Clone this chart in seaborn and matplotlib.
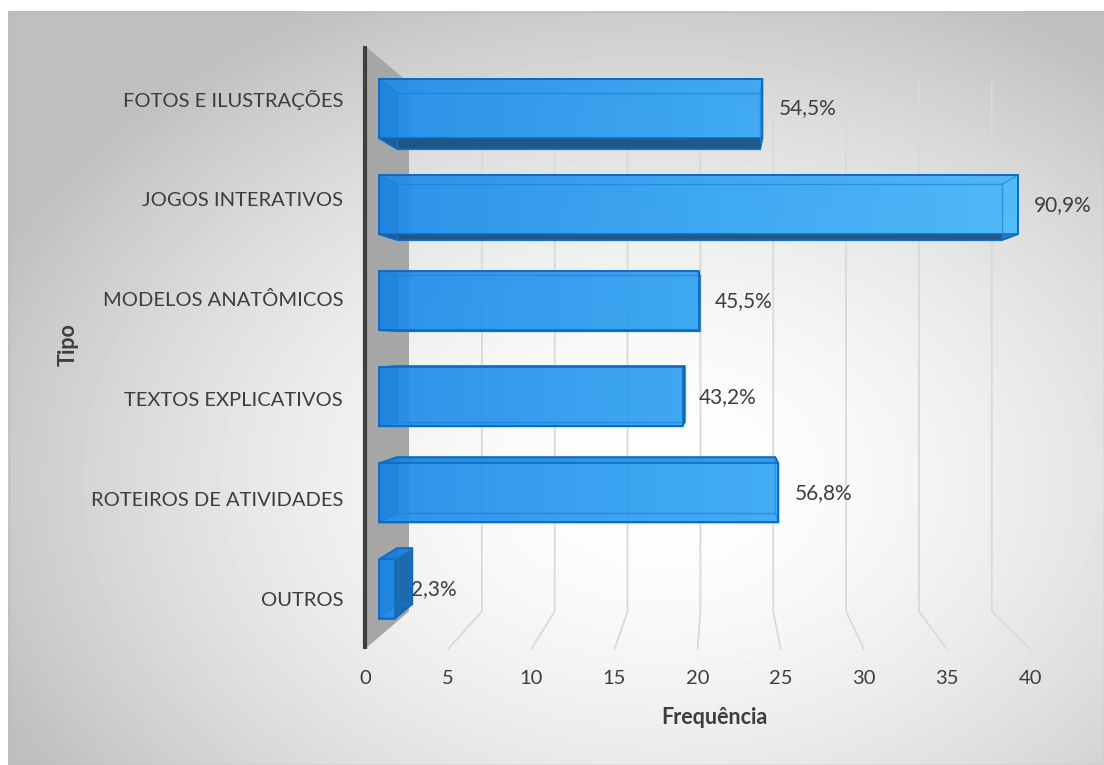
import numpy as np
import pandas as pd
import matplotlib
matplotlib.use("Agg")
import matplotlib.pyplot as plt
import seaborn as sns
from matplotlib.patches import Polygon, Rectangle
from matplotlib.colors import LinearSegmentedColormap

# ---- data -------------------------------------------------------------
categories = [
    "FOTOS E ILUSTRAÇÕES",
    "JOGOS INTERATIVOS",
    "MODELOS ANATÔMICOS",
    "TEXTOS EXPLICATIVOS",
    "ROTEIROS DE ATIVIDADES",
    "OUTROS",
]
frequencies = [24, 40, 20, 19, 25, 1]
percent_labels = ["54,5%", "90,9%", "45,5%", "43,2%", "56,8%", "2,3%"]
x_ticks = [0, 5, 10, 15, 20, 25, 30, 35, 40]
x_title = "Frequência"
y_title = "Tipo"

# ---- layout (pixels) ----------------------------------------------------
W, H = 1104, 765
AX_L, AX_T, AX_R, AX_B = 350, 30, 1104, 660
X0_PX, PX_PER_UNIT = 379.0, 15.975      # bar front plane: value -> pixel
Y0_PX, PX_PER_ROW = 108.5, 96.1         # bar front plane: row -> pixel
BAR_H = 0.614

# perspective: every depth plane is a scaling about the vanishing point
VP = (21.35, 2.46)
DEPTH_FRONT = 1.041       # floor front edge, tick labels, axis line
DEPTH_BAR_BACK = 0.947    # back face of the bars
DEPTH_WALL = 0.912        # back wall carrying the gridlines
ROW_TOP, ROW_BOTTOM = -0.53, 5.5


def project(v, i, r):
    return VP[0] + r * (v - VP[0]), VP[1] + r * (i - VP[1])


def hull(points):
    pts = sorted(set(points))
    def cross(o, a, b):
        return (a[0] - o[0]) * (b[1] - o[1]) - (a[1] - o[1]) * (b[0] - o[0])
    lower, upper = [], []
    for p in pts:
        while len(lower) >= 2 and cross(lower[-2], lower[-1], p) <= 0:
            lower.pop()
        lower.append(p)
    for p in reversed(pts):
        while len(upper) >= 2 and cross(upper[-2], upper[-1], p) <= 0:
            upper.pop()
        upper.append(p)
    return lower[:-1] + upper[:-1]


sns.set_theme(style="white")
plt.rcParams["font.family"] = ["Lato", "DejaVu Sans"]
TEXT = "#3d3d3d"

fig = plt.figure(figsize=(W / 100, H / 100), dpi=100)
fig.patch.set_facecolor("white")

# ---- chart area with radial shading ------------------------------------
bg = fig.add_axes([0, 0, 1, 1], zorder=0)
bg.set_xlim(0, W)
bg.set_ylim(H, 0)
bg.axis("off")
yy, xx = np.mgrid[11:H, 8:W].astype(float)
dist = np.hypot((xx - 660) / 640, (yy - 480) / 470)
shade = 1 - 0.2 * np.clip(dist, 0, 1.15) ** 1.7
bg.imshow(shade, cmap="gray", vmin=0, vmax=1, extent=(8, W, H, 11),
          aspect="auto", interpolation="bilinear")
bg.add_patch(Rectangle((8.5, 11.5), W - 9, H - 12, fill=False, ec="#bdbdbd", lw=1))

# ---- bars --------------------------------------------------------------
ax = fig.add_axes([AX_L / W, 1 - AX_B / H, (AX_R - AX_L) / W, (AX_B - AX_T) / H], zorder=1)
df = pd.DataFrame({y_title: categories, x_title: frequencies})
sns.barplot(data=df, x=x_title, y=y_title, orient="h", width=BAR_H,
            color="#2e9ff0", ax=ax, zorder=4)
bars = list(ax.containers[0])

xlim = ((AX_L - X0_PX) / PX_PER_UNIT, (AX_R - X0_PX) / PX_PER_UNIT)
ylim = ((AX_B - Y0_PX) / PX_PER_ROW, (AX_T - Y0_PX) / PX_PER_ROW)

bar_cmap = LinearSegmentedColormap.from_list("bar", ["#1f8ce8", "#31a3f3", "#46b7fa"])
gradient = np.linspace(0, 1, 256).reshape(1, -1)
edge = "#0b6bc2"

for bar in bars:
    x0, w = bar.get_x(), bar.get_width()
    y0, h = bar.get_y(), bar.get_height()
    x1, y1 = x0 + w, y0 + h
    front = [(x0, y0), (x1, y0), (x1, y1), (x0, y1)]
    back = [project(x, y, DEPTH_BAR_BACK) for x, y in front]
    outline = hull(front + back)
    sil = Polygon(outline, closed=True, fc="none", ec=edge, lw=1.3, zorder=4.6)
    ax.add_patch(sil)
    im = ax.imshow(gradient, cmap=bar_cmap, extent=(-0.5, 41.0, y1 + 0.2, y0 - 0.2),
                   aspect="auto", alpha=0.93, zorder=3, interpolation="bilinear")
    im.set_clip_path(sil)

    cy = y0 + h / 2
    if cy < VP[1]:
        # underside seen from below
        ax.add_patch(Polygon([front[3], front[2], back[2], back[3]], closed=True,
                             fc="#214f78", ec="none", alpha=0.9, zorder=3.5))
    else:
        ax.add_patch(Polygon([front[0], front[1], back[1], back[0]], closed=True,
                             fc="#1573c9", ec="none", alpha=0.3, zorder=3.5))
    # left end
    ax.add_patch(Polygon([front[0], back[0], back[3], front[3]], closed=True,
                         fc="#0f70cc", ec="none", alpha=0.25, zorder=3.5))
    # right end
    if x1 < VP[0]:
        ax.add_patch(Polygon([front[1], back[1], back[2], front[2]], closed=True,
                             fc="#1a5f9e", ec="none", alpha=0.75, zorder=3.5))
    else:
        ax.add_patch(Polygon([front[1], back[1], back[2], front[2]], closed=True,
                             fc="#5cc4fb", ec="none", alpha=0.3, zorder=3.5))
    # hidden edges seen through the translucent box
    bx, by = zip(*(back + [back[0]]))
    ax.plot(bx, by, color="#1a7ad4", lw=1.0, alpha=0.6, zorder=4.2)
    for f, b in zip(front, back):
        ax.plot([f[0], b[0]], [f[1], b[1]], color="#1a7ad4", lw=1.0, alpha=0.6, zorder=4.2)

    bar.set_facecolor("none")
    bar.set_edgecolor(edge)
    bar.set_linewidth(1.1)
    bar.set_zorder(4.5)

# ---- side wall, gridlines, axis line -----------------------------------
wall = [project(0, ROW_TOP, DEPTH_FRONT), project(0, ROW_TOP, DEPTH_WALL),
        project(0, ROW_BOTTOM, DEPTH_WALL), project(0, ROW_BOTTOM, DEPTH_FRONT)]
ax.add_patch(Polygon(wall, closed=True, fc="#a6a6a6", ec="none", zorder=1))

for t in x_ticks[1:]:
    pts = [project(t, ROW_TOP, DEPTH_WALL), project(t, ROW_BOTTOM, DEPTH_WALL),
           project(t, ROW_BOTTOM, DEPTH_FRONT)]
    gx, gy = zip(*pts)
    ax.plot(gx, gy, color="#d9d9d9", lw=1.3, zorder=1.5)

ax_line = [project(0, ROW_TOP, DEPTH_FRONT), project(0, ROW_BOTTOM, DEPTH_FRONT)]
lx, ly = zip(*ax_line)
ax.plot(lx, ly, color="#3f3f3f", lw=3, zorder=2, solid_capstyle="butt")

# ---- labels ------------------------------------------------------------
ax.bar_label(ax.containers[0], labels=percent_labels, padding=11.5,
             fontsize=15, color=TEXT)

ax.set_yticks([project(0, i, DEPTH_FRONT)[1] for i in range(len(categories))],
              labels=categories)
ax.set_xticks([project(t, 0, DEPTH_FRONT)[0] for t in x_ticks],
              labels=[str(t) for t in x_ticks])
ax.tick_params(axis="both", length=0, labelsize=14.5, labelcolor=TEXT)
ax.tick_params(axis="y", pad=5)
ax.tick_params(axis="x", pad=7)

ax.set_xlabel(x_title, fontsize=15.5, fontweight="bold", color=TEXT)
ax.xaxis.set_label_coords((714 - AX_L) / (AX_R - AX_L), (AX_B - 717) / (AX_B - AX_T))
ax.xaxis.label.set_va("center")
ax.set_ylabel(y_title, fontsize=15.5, fontweight="bold", color=TEXT)
ax.yaxis.set_label_coords((68 - AX_L) / (AX_R - AX_L), (AX_B - 345) / (AX_B - AX_T))
ax.yaxis.label.set_va("center")
ax.yaxis.label.set_ha("center")

for s in ax.spines.values():
    s.set_visible(False)
ax.patch.set_alpha(0)
ax.set_xlim(*xlim)
ax.set_ylim(*ylim)

fig.savefig("out.png", dpi=100)
